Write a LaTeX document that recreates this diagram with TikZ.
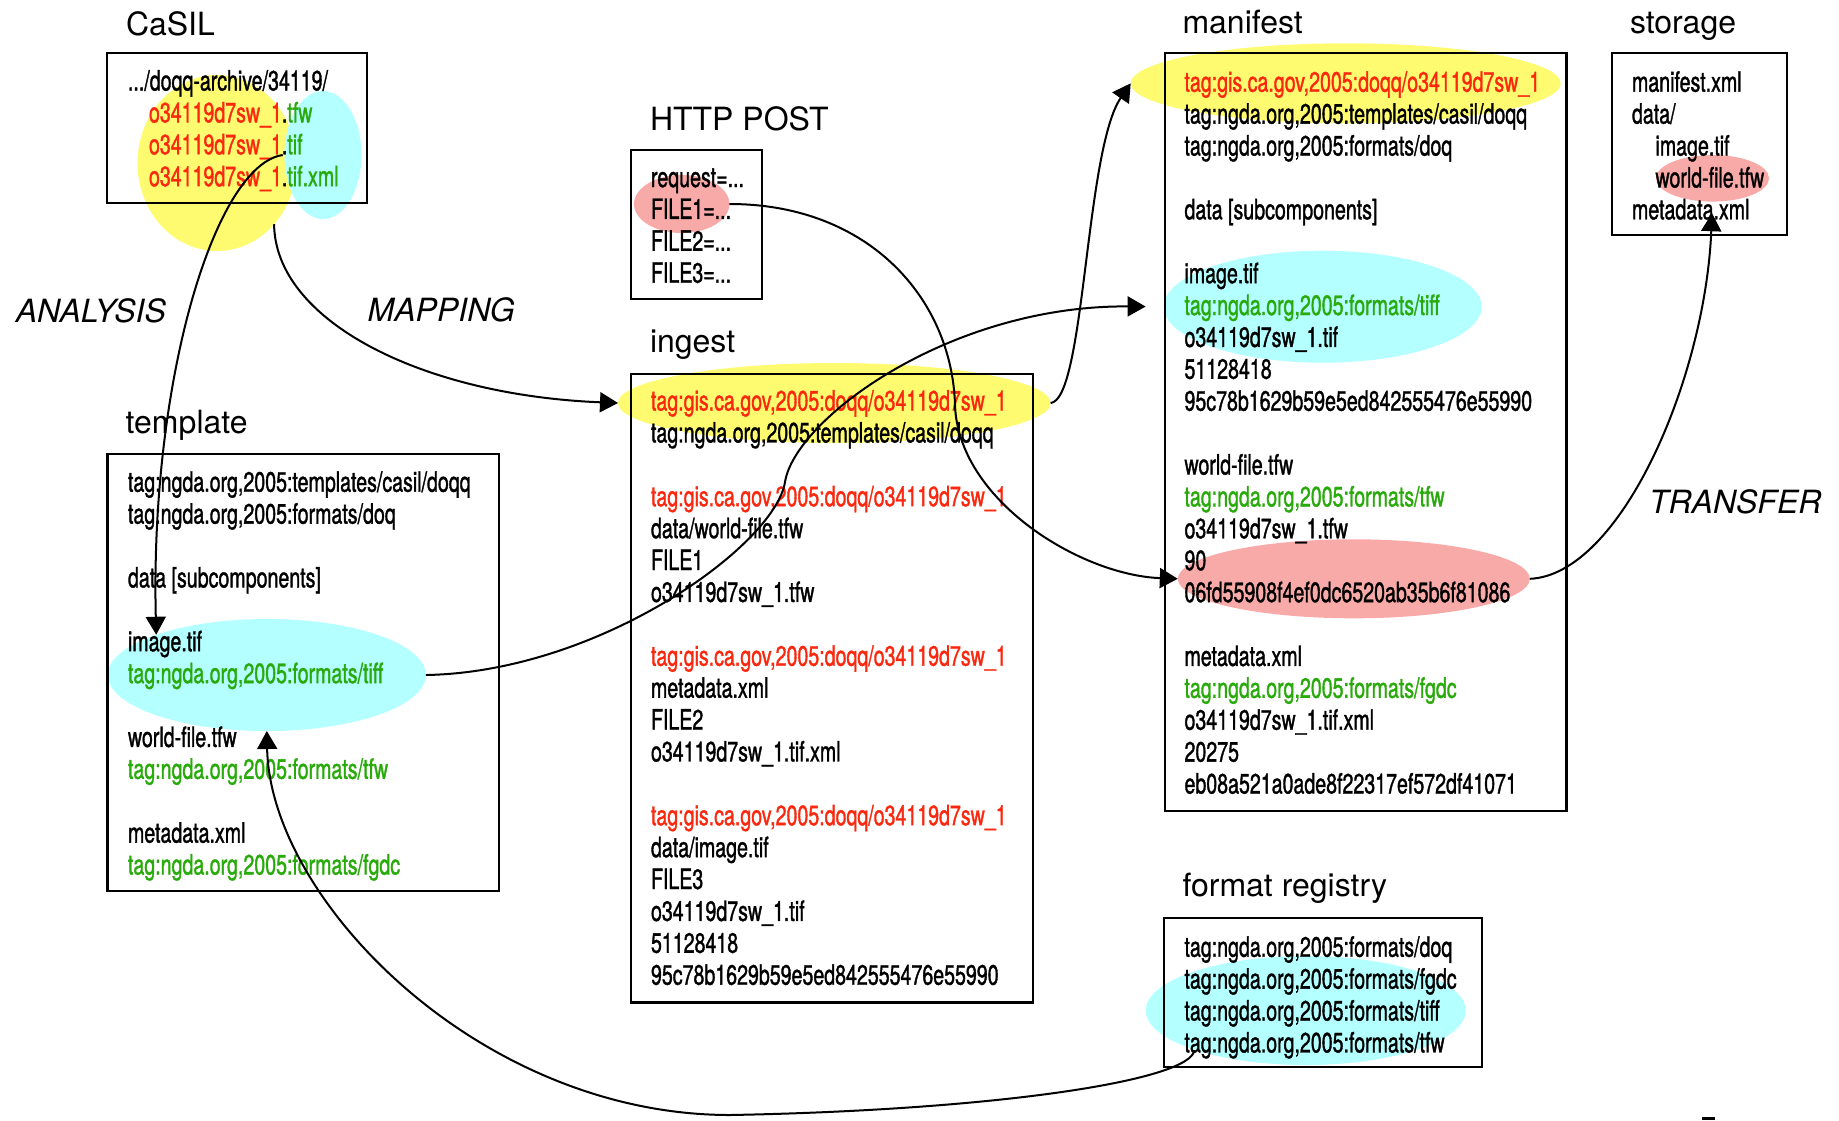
\documentclass[tikz,border=0pt]{standalone}
\usepackage{fontspec}
\setmainfont{TeX Gyre Heros}
\newfontfamily\condfont[FakeStretch=0.7,FakeBold=1.2]{TeX Gyre Heros}
\usetikzlibrary{arrows.meta,shapes.geometric}
\definecolor{hiyellow}{RGB}{255,251,112}
\definecolor{hicyan}{RGB}{180,255,255}
\definecolor{hipink}{RGB}{248,170,168}
\definecolor{tagred}{RGB}{250,40,15}
\definecolor{taggreen}{RGB}{40,170,10}
\newcommand\redtag[1]{\textcolor{tagred}{#1}}
\newcommand\greentag[1]{\textcolor{taggreen}{#1}}
\newcommand\firstline{\rule{0pt}{12pt}} % fixes the top of a listing
\tikzset{%
  >={Triangle[length=9pt,width=10pt]}, % filled heads
  inner sep=0pt,%
  outer sep=0pt,%
  box/.style={draw,line width=1.1pt,anchor=north west},%
  listing/.style={anchor=north west,align=left,
    font=\condfont\fontsize{14}{15.95}\selectfont},%
  heading/.style={anchor=base west,font=\fontsize{16}{19}\selectfont},%
  action/.style={anchor=base west,font=\fontsize{16}{19}\selectfont\itshape},%
  spot/.style={ellipse,draw=none},%
  link/.style={->,line width=1pt}%
}

\begin{document}
\begin{tikzpicture}[x=0.5pt,y=-0.5pt] % ingest of one CaSIL DOQQ

\useasboundingbox (0,0) rectangle (1839,1120);

% highlights, under the boxes
\node[spot,fill=hiyellow,minimum width=79.5pt,minimum height=88pt] (casilY) at (217,163) {};
\node[spot,fill=hicyan,minimum width=38.5pt,minimum height=64pt] (casilC) at (323,155) {};
\node[spot,fill=hipink,minimum width=47.7pt,minimum height=29pt] (postP) at (681.7,204) {};
\node[spot,fill=hiyellow,minimum width=216.3pt,minimum height=40pt] (ingY) at (834.3,403) {};
\node[spot,fill=hicyan,minimum width=159pt,minimum height=56pt] (tmplC) at (266.8,675) {};
\node[spot,fill=hiyellow,minimum width=215pt,minimum height=40pt] (manY) at (1345.7,83.3) {};
\node[spot,fill=hicyan,minimum width=159pt,minimum height=56pt] (manC) at (1322.6,306.7) {};
\node[spot,fill=hipink,minimum width=176pt,minimum height=39.5pt] (manP) at (1353.8,578.8) {};
\node[spot,fill=hipink,minimum width=56.5pt,minimum height=23.3pt] (stoP) at (1712.5,178.3) {};
\node[spot,fill=hicyan,minimum width=160pt,minimum height=54.5pt] (regC) at (1305.7,1010.5) {};

% boxes
\node[box,minimum width=130pt,minimum height=75pt] (casil) at (107,53) {};
\node[box,minimum width=65.8pt,minimum height=74.65pt] (post) at (630.7,150) {};
\node[box,minimum width=201pt,minimum height=314.2pt] (ingest) at (630.7,374) {};
\node[box,minimum width=195.55pt,minimum height=218.5pt] (tmpl) at (107.5,454) {};
\node[box,minimum width=200.95pt,minimum height=378.7pt] (man) at (1164.6,53.3) {};
\node[box,minimum width=87.4pt,minimum height=90.85pt] (sto) at (1612.2,53.3) {};
\node[box,minimum width=159.05pt,minimum height=74.5pt] (reg) at (1163.6,918.3) {};

% headings
\node[heading] (casilH) at (126,35) {CaSIL};
\node[heading] (postH) at (650,130) {HTTP POST};
\node[heading] (ingestH) at (650,352) {ingest};
\node[heading] (tmplH) at (125.7,433) {template};
\node[heading] (manH) at (1182.5,33) {manifest};
\node[heading] (stoH) at (1630,33) {storage};
\node[heading] (regH) at (1182.5,896.7) {format registry};
\node[action] (analysis) at (15.8,322) {ANALYSIS};
\node[action] (mapping) at (367.7,321.7) {MAPPING};
\node[action] (transfer) at (1649,513.3) {TRANSFER};

% listings
\node[listing] (casilL) at (128,66.5) {\firstline.../doqq-archive/34119/\\
  \hspace*{10.5pt}\redtag{o34119d7sw\_1}.\greentag{tfw}\\
  \hspace*{10.5pt}\redtag{o34119d7sw\_1}.\greentag{tif}\\
  \hspace*{10.5pt}\redtag{o34119d7sw\_1}.\greentag{tif.xml}};
\node[listing] (postL) at (651,163) {\firstline request=...\\
  FILE1=...\\ FILE2=...\\ FILE3=...};
\node[listing] (ingestL) at (651,386.5) {\firstline\redtag{tag:gis.ca.gov,2005:doqq/o34119d7sw\_1}\\
  tag:ngda.org,2005:templates/casil/doqq\\
  \\
  \redtag{tag:gis.ca.gov,2005:doqq/o34119d7sw\_1}\\
  data/world-file.tfw\\
  FILE1\\
  o34119d7sw\_1.tfw\\
  \\
  \redtag{tag:gis.ca.gov,2005:doqq/o34119d7sw\_1}\\
  metadata.xml\\
  FILE2\\
  o34119d7sw\_1.tif.xml\\
  \\
  \redtag{tag:gis.ca.gov,2005:doqq/o34119d7sw\_1}\\
  data/image.tif\\
  FILE3\\
  o34119d7sw\_1.tif\\
  51128418\\
  95c78b1629b59e5ed842555476e55990};
\node[listing] (tmplL) at (128,467.7) {\firstline tag:ngda.org,2005:templates/casil/doqq\\
  tag:ngda.org,2005:formats/doq\\
  \\
  data [subcomponents]\\
  \\
  image.tif\\
  \greentag{tag:ngda.org,2005:formats/tiff}\\
  \\
  world-file.tfw\\
  \greentag{tag:ngda.org,2005:formats/tfw}\\
  \\
  metadata.xml\\
  \greentag{tag:ngda.org,2005:formats/fgdc}};
\node[listing] (manL) at (1184.5,67.7) {\firstline\redtag{tag:gis.ca.gov,2005:doqq/o34119d7sw\_1}\\
  tag:ngda.org,2005:templates/casil/doqq\\
  tag:ngda.org,2005:formats/doq\\
  \\
  data [subcomponents]\\
  \\
  image.tif\\
  \greentag{tag:ngda.org,2005:formats/tiff}\\
  o34119d7sw\_1.tif\\
  51128418\\
  95c78b1629b59e5ed842555476e55990\\
  \\
  world-file.tfw\\
  \greentag{tag:ngda.org,2005:formats/tfw}\\
  o34119d7sw\_1.tfw\\
  90\\
  06fd55908f4ef0dc6520ab35b6f81086\\
  \\
  metadata.xml\\
  \greentag{tag:ngda.org,2005:formats/fgdc}\\
  o34119d7sw\_1.tif.xml\\
  20275\\
  eb08a521a0ade8f22317ef572df41071};
\node[listing] (stoL) at (1632,67.7) {\firstline manifest.xml\\
  data/\\
  \hspace*{11.75pt}image.tif\\
  \hspace*{11.75pt}world-file.tfw\\
  metadata.xml};
\node[listing] (regL) at (1184.5,932.7) {\firstline tag:ngda.org,2005:formats/doq\\
  tag:ngda.org,2005:formats/fgdc\\
  tag:ngda.org,2005:formats/tiff\\
  tag:ngda.org,2005:formats/tfw};

% connectors
\coordinate (tifdot) at (282.7,155);
\coordinate (tfwtag) at (1194.3,1050);
\draw[link] (tifdot) .. controls (215,165) and (150,380) .. (tmplC.160);
\draw[link] (casilY.-47) .. controls (275,320) and (420,395) .. (ingY.west);
\draw[link,shorten >=9pt] (tmplC.east) .. controls (600,672) and (775,545) .. (785,482)
  .. controls (795,419) and (950,305) .. (manC.west);
\draw[link] (postP.east) .. controls (870,204) and (952,300) .. (955,405)
  .. controls (958,500) and (1080,575) .. (manP.west);
\draw[link] (ingY.east) .. controls (1085,400) and (1085,150) .. (manY.west);
\draw[link,shorten >=5.8pt] (manP.east) .. controls (1620,575) and (1705,380) .. (stoP.south);
\draw[link] (tfwtag) .. controls (1192,1080) and (1000,1110) .. (730,1115)
  .. controls (480,1115) and (270,900) .. (tmplC.south);

\fill (1701.7,1117.3) rectangle (1715,1120); % cut-off mark at the edge

\end{tikzpicture}
\end{document}
